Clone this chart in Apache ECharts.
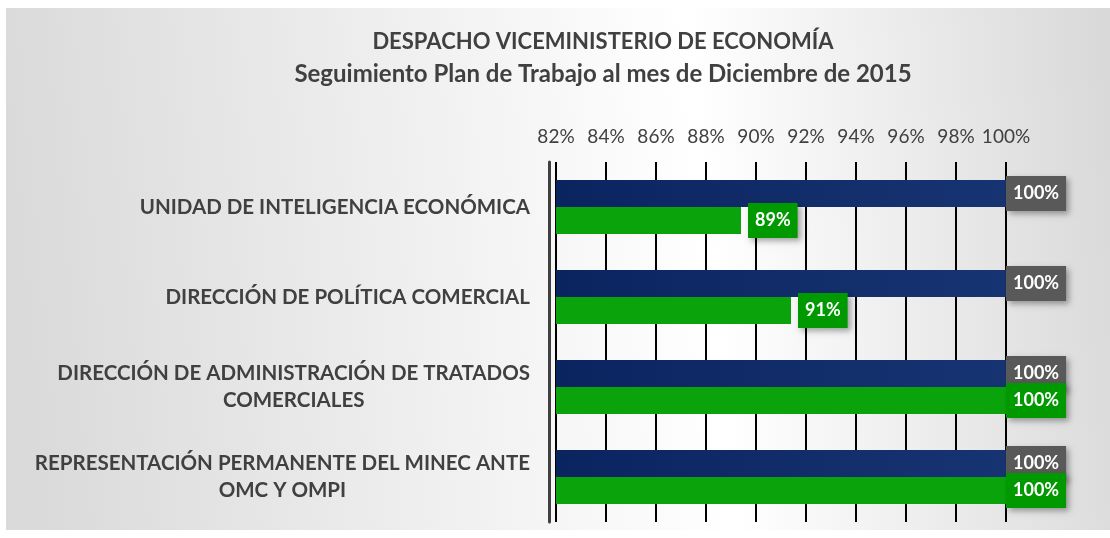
<!DOCTYPE html>
<html>
<head>
<meta charset="utf-8">
<script src="https://cdn.jsdelivr.net/npm/echarts@6/dist/echarts.min.js"></script>
<style>
  html, body { margin: 0; padding: 0; background: #fff; }
  #chart { width: 1110px; height: 538px; }
</style>
</head>
<body>
<div id="chart"></div>
<script>
// datos del grafico
var categorias = [
  'UNIDAD DE INTELIGENCIA ECONÓMICA',
  'DIRECCIÓN DE POLÍTICA COMERCIAL',
  'DIRECCIÓN DE ADMINISTRACIÓN DE TRATADOS\nCOMERCIALES',
  'REPRESENTACIÓN PERMANENTE DEL MINEC ANTE\nOMC Y OMPI'
]
var programado = [100, 100, 100, 100]
var ejecutado = [89.4, 91.4, 100, 100]
var ticksX = [82, 84, 86, 88, 90, 92, 94, 96, 98, 100]

var fuente = 'Lato'
var chart = echarts.init(document.getElementById('chart'))

function etiqueta(color, v) {
  return {
    show: true,
    position: 'right',
    distance: v < 100 ? 7 : 0,
    formatter: function (p) { return Math.round(p.value) + '%' },
    color: '#fff',
    fontFamily: fuente,
    fontWeight: 'bold',
    fontSize: 18,
    backgroundColor: color,
    padding: [9, 7, 8, 7],
    shadowColor: 'rgba(0,0,0,0.35)',
    shadowBlur: 6,
    shadowOffsetX: 3,
    shadowOffsetY: 3
  }
}

chart.setOption({
  animation: false,
  graphic: [{
    type: 'rect',
    silent: true,
    z: -10,
    shape: { x: 6, y: 8, width: 1104, height: 522 },
    style: {
      fill: new echarts.graphic.LinearGradient(0, 0.2, 1, 0, [
        { offset: 0, color: '#dadada' },
        { offset: 0.62, color: '#ffffff' },
        { offset: 1, color: '#d8d8d8' }
      ])
    }
  }],
  title: {
    text: 'DESPACHO VICEMINISTERIO DE ECONOMÍA',
    subtext: 'Seguimiento Plan de Trabajo al mes de Diciembre de 2015',
    left: 598,
    textAlign: 'center',
    top: 26,
    itemGap: 9,
    textStyle: {
      fontFamily: fuente,
      fontSize: 22,
      fontWeight: 'bold',
      color: '#404040'
    },
    subtextStyle: {
      fontFamily: fuente,
      fontSize: 24,
      fontWeight: 'bold',
      color: '#404040'
    }
  },
  grid: {
    left: 556,
    right: 104,
    top: 162,
    bottom: 16
  },
  xAxis: {
    type: 'value',
    position: 'top',
    min: 82,
    max: 100,
    interval: 2,
    axisLine: { show: false },
    axisTick: { show: false },
    axisLabel: {
      margin: 16,
      fontFamily: fuente,
      fontSize: 19,
      color: '#404040',
      formatter: function (v) { return ticksX.indexOf(v) >= 0 ? v + '%' : '' }
    },
    splitLine: { lineStyle: { color: '#000', width: 2 } }
  },
  yAxis: {
    type: 'category',
    inverse: true,
    data: categorias,
    offset: 7,
    axisLine: { lineStyle: { color: '#404040', width: 3 } },
    axisTick: { show: false },
    axisLabel: {
      margin: 19,
      formatter: function (v) {
        return v.split('\n').map(function (l) { return '{c|' + l + '}' }).join('\n')
      },
      rich: {
        c: {
          align: 'center',
          fontFamily: fuente,
          fontSize: 20.5,
          fontWeight: 'bold',
          color: '#404040',
          lineHeight: 27
        }
      }
    }
  },
  series: [
    {
      name: 'Programado',
      type: 'bar',
      barWidth: 27,
      barGap: '0%',
      itemStyle: {
        color: new echarts.graphic.LinearGradient(0, 0, 1, 0, [
          { offset: 0, color: '#0a2460' },
          { offset: 1, color: '#173472' }
        ])
      },
      data: programado.map(function (v) { return { value: v, label: etiqueta('#595959', v) } })
    },
    {
      name: 'Ejecutado',
      type: 'bar',
      barWidth: 27,
      barGap: '0%',
      z: 3,
      itemStyle: { color: '#0aa30c' },
      data: ejecutado.map(function (v) { return { value: v, label: etiqueta('#009a00', v) } })
    }
  ]
})
</script>
</body>
</html>
